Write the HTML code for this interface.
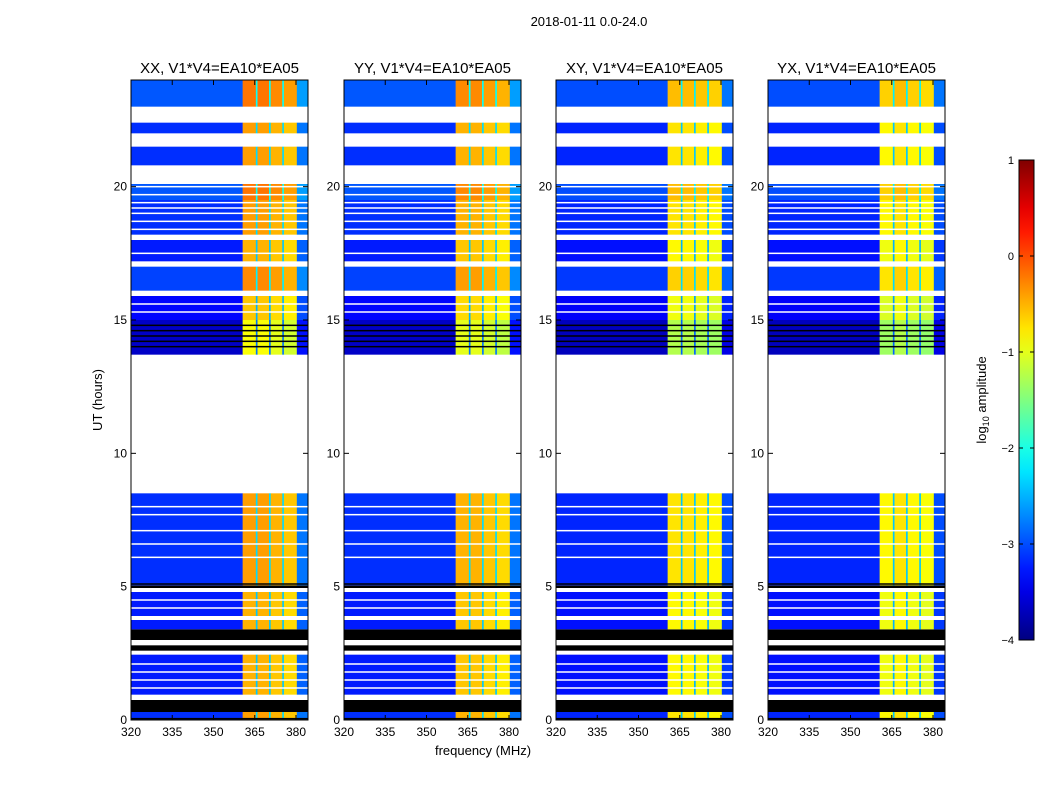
<!DOCTYPE html>
<html><head><meta charset="utf-8">
<style>
body{margin:0;background:#fff;}
svg text{font-family:"Liberation Sans",sans-serif;}
</style></head>
<body>
<svg id="fig" width="1050" height="800" viewBox="0 0 1050 800" xmlns="http://www.w3.org/2000/svg">
<rect width="1050" height="800" fill="#fff"/>
<text x="589" y="26" font-size="13" text-anchor="middle">2018-01-11 0.0-24.0</text>
<text x="483" y="755" font-size="13" text-anchor="middle">frequency (MHz)</text>
<text transform="translate(102,400) rotate(-90)" font-size="13" text-anchor="middle">UT (hours)</text>
<g id="panels"></g>
<g id="cbar"></g>
</svg>
<script>
// ---- data ----
const panelTitles = ["XX, V1*V4=EA10*EA05","YY, V1*V4=EA10*EA05","XY, V1*V4=EA10*EA05","YX, V1*V4=EA10*EA05"];
const panelLeft = [131,344,556,768];
const freqEdges = [320,360.6,365.4,366,370.2,370.8,375,375.6,380.3,384.4];
const xxLevels = [-3.25,-0.5,-2.4,-0.5,-2.4,-0.6,-2.4,-0.7,-2.9];
const yyLevels = [-3.25,-0.6,-2.4,-0.6,-2.4,-0.7,-2.4,-0.8,-2.9];
const xyLevels = [-3.3,-0.85,-2.5,-0.85,-2.5,-0.9,-2.5,-0.95,-3.1];
const yxLevels = [-3.3,-0.95,-2.5,-0.85,-2.5,-0.95,-2.5,-1.0,-3.1];
const segStart = [0,0.3,0.75,0.95,2.45,2.6,2.8,3.0,3.4,3.75,3.9,4.8,4.95,5.05,8.5,13.7,15.0,15.9,16.1,17.0,17.2,18.0,18.2,19.5,20.1,20.8,21.5,22.0,22.4,23.0];
const segEnd   = [0.3,0.75,0.95,2.45,2.6,2.8,3.0,3.4,3.75,3.9,4.8,4.95,5.05,8.5,13.7,15.0,15.9,16.1,17.0,17.2,18.0,18.2,19.5,20.1,20.8,21.5,22.0,22.4,23.0,24.0];
const segKind  = ["d","k","w","d","w","k","w","k","d","w","d","w","k","d","w","d","d","w","d","w","d","w","d","d","w","d","w","d","w","d"];
const segGain  = [0.1,0,0,0,0,0,0,0,0,0,0,0,0,0.1,0,-0.4,-0.1,0,0.2,0,0,0,0.1,0.3,0,0.1,0,0.1,0,0.3];
const whiteLines = [1.2,1.5,1.8,2.1,4.2,4.5,6.1,6.6,7.1,7.7,8.0,18.4,18.7,19.0,19.2,19.4,19.7,20.0,15.3,15.6,17.5];
const blackLines = [14.0,14.2,14.4,14.6,14.8,5.1,0.05];
const yTicks = [0,5,10,15,20];
const xTicks = [320,335,350,365,380];
const cbTicks = [1,0,-1,-2,-3,-4];
const cbLabels = ["1","0","\u22121","\u22122","\u22123","\u22124"];
const allLevels = [xxLevels,yyLevels,xyLevels,yxLevels];

// ---- helpers ----
const NS="http://www.w3.org/2000/svg";
function el(tag,attrs,parent){const e=document.createElementNS(NS,tag);for(const k in attrs)e.setAttribute(k,attrs[k]);parent.appendChild(e);return e;}
function jet(t){t=Math.max(0,Math.min(1,t));
 const r=Math.max(0,Math.min(1,1.5-Math.abs(4*t-3)));
 const g=Math.max(0,Math.min(1,1.5-Math.abs(4*t-2)));
 const b=Math.max(0,Math.min(1,1.5-Math.abs(4*t-1)));
 return `rgb(${Math.round(r*255)},${Math.round(g*255)},${Math.round(b*255)})`;}
const vmin=-4,vmax=1;
const PW=177,PT=80,PB=720;
function yScale(h){return PB-(h/24)*(PB-PT);}
function xScale(f,x0){return x0+(f-320)*2.75;}

const panels=document.getElementById('panels');
for(let p=0;p<4;p++){
 const x0=panelLeft[p];
 const g=el('g',{},panels);
 
 
 const lv=allLevels[p];
 for(let s=0;s<segStart.length;s++){
  const y1=yScale(segEnd[s]),y2=yScale(segStart[s]);
  if(segKind[s]==='w')continue;
  if(segKind[s]==='k'){
   const r=el('rect',{x:x0,y:y1,width:PW,height:y2-y1,fill:'#000'},g);
   
   
   continue;}
  for(let b=0;b<lv.length;b++){
   const xa=xScale(freqEdges[b],x0),xb=Math.min(xScale(freqEdges[b+1],x0),x0+PW);
   const v=lv[b]+segGain[s];
   const r=el('rect',{x:xa,y:y1,width:xb-xa+0.3,height:y2-y1,fill:jet((v-vmin)/(vmax-vmin))},g);
   
   
  }
 }
 whiteLines.forEach(h=>{const y=yScale(h);
  const l=el('rect',{x:x0,y:y-0.75,width:PW,height:1.5,fill:'#fff'},g);
  
  });
 blackLines.forEach(h=>{const y=yScale(h);
  const l=el('rect',{x:x0,y:y-0.75,width:PW,height:1.5,fill:'#000'},g);
  
  });
 const fr=el('rect',{x:x0,y:PT,width:PW,height:PB-PT,fill:'none',stroke:'#000','stroke-width':1},g);
 
 
 const t=el('text',{x:x0+PW/2,y:73,'font-size':15,'text-anchor':'middle'},g);
 t.textContent=panelTitles[p];
 
 
 yTicks.forEach(v=>{const y=yScale(v);
  el('line',{x1:x0,x2:x0+5,y1:y,y2:y,stroke:'#000'},g);
  el('line',{x1:x0+PW-5,x2:x0+PW,y1:y,y2:y,stroke:'#000'},g);
  const tl=el('text',{x:x0-4,y:y+4,'font-size':12,'text-anchor':'end'},g);
  tl.textContent=v;
  
  });
 xTicks.forEach(v=>{const x=xScale(v,x0);
  el('line',{x1:x,x2:x,y1:PB,y2:PB-5,stroke:'#000'},g);
  el('line',{x1:x,x2:x,y1:PT,y2:PT+5,stroke:'#000'},g);
  const tl=el('text',{x:x,y:PB+16,'font-size':12,'text-anchor':'middle'},g);
  tl.textContent=v;
  
  });
}
// colorbar
const cb=document.getElementById('cbar');
const CX=1019,CW=15,CT=160,CB=640;
const gr=el('linearGradient',{id:'jetg',x1:0,y1:1,x2:0,y2:0},el('defs',{},cb));
for(let i=0;i<=20;i++){el('stop',{offset:i/20,'stop-color':jet(i/20)},gr);}
const cr=el('rect',{x:CX,y:CT,width:CW,height:CB-CT,fill:'url(#jetg)',stroke:'#000'},cb);


cbTicks.forEach((v,i)=>{const y=CB-(v-vmin)/(vmax-vmin)*(CB-CT);
 el('line',{x1:CX,x2:CX+4,y1:y,y2:y,stroke:'#000'},cb);
 el('line',{x1:CX+CW-4,x2:CX+CW,y1:y,y2:y,stroke:'#000'},cb);
 const tl=el('text',{x:CX-5,y:y+4,'font-size':11,'text-anchor':'end'},cb);
 tl.textContent=cbLabels[i];
 
 });
const cl=el('text',{transform:'translate(986,400) rotate(-90)','font-size':13,'text-anchor':'middle'},cb);
cl.innerHTML='log<tspan font-size="9" dy="3">10</tspan><tspan dy="-3"> amplitude</tspan>';


</script>
</body></html>
